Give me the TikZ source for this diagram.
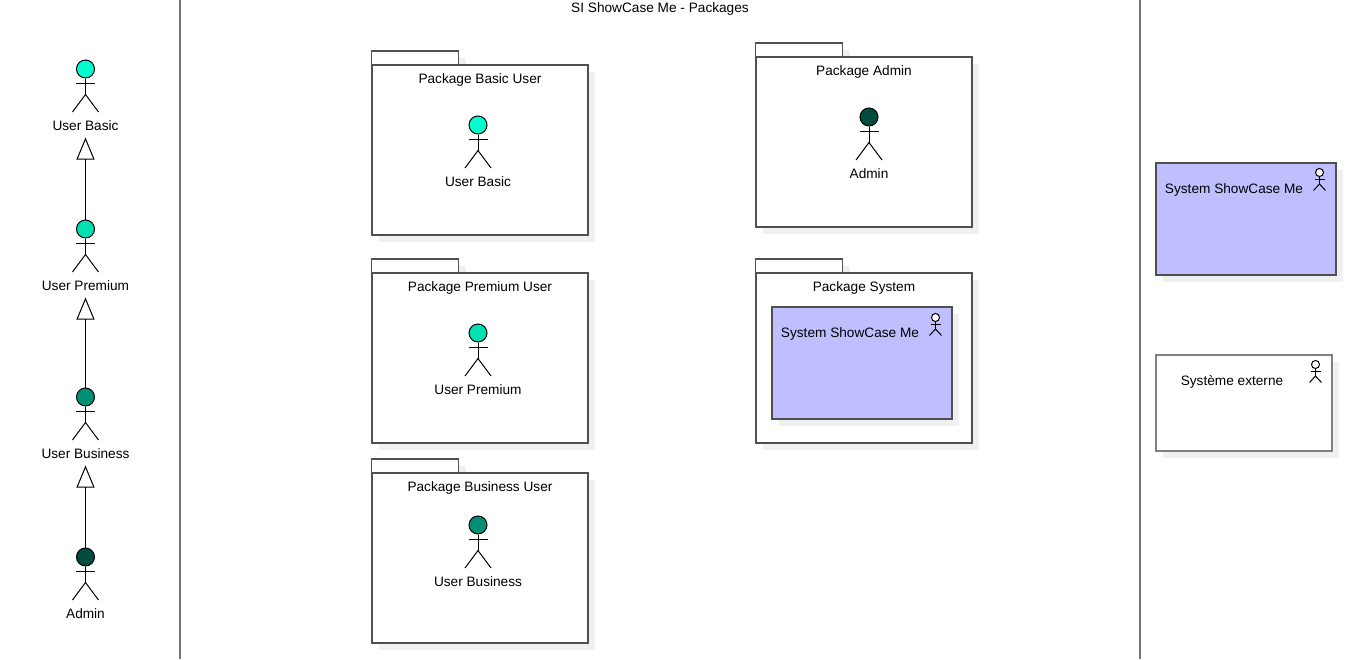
\documentclass[tikz,border=0pt]{standalone}
\usepackage{fontspec}
\setmainfont{Liberation Sans}
\usetikzlibrary{shadows,arrows.meta}
\tikzset{every picture/.style={line width=1pt}}
\definecolor{basicgreen}{HTML}{00FFCC}
\definecolor{premiumgreen}{HTML}{00E0B3}
\definecolor{businessgreen}{HTML}{008F73}
\definecolor{admingreen}{HTML}{004D40}
\definecolor{systemblue}{HTML}{BFBFFF}
\definecolor{edgegray}{HTML}{505050}
\definecolor{shadowgray}{HTML}{F0F0F0}

\begin{document}
\begin{tikzpicture}[
    x=1pt, y=-1pt,
    softshadow/.style={
        drop shadow={shadow xshift=7pt, shadow yshift=-7pt, fill=shadowgray, opacity=1}
    },
    pkgbody/.style={
        rectangle, draw=edgegray, fill=white, softshadow, line width=1.1pt,
        inner sep=0pt, minimum width=216pt, minimum height=170pt
    },
    pkgtab/.style={
        rectangle, draw=edgegray, fill=white, softshadow, line width=1.1pt,
        inner sep=0pt, minimum width=87pt, minimum height=14pt
    },
    sysbox/.style={
        rectangle, draw=edgegray, fill=systemblue, softshadow, line width=1.1pt,
        inner sep=0pt, minimum width=180pt, minimum height=112pt
    },
    extbox/.style={
        rectangle, draw=gray, fill=white, softshadow, line width=1.1pt,
        inner sep=0pt, minimum width=176pt, minimum height=96pt
    },
    lbl/.style={inner sep=0pt, minimum height=14pt, yshift=-1pt, font=\fontsize{13.65}{15}\selectfont},
    head/.style={circle, draw=black, inner sep=0pt, minimum size=18pt},
    minihead/.style={circle, draw=black, fill=white, inner sep=0pt, minimum size=8pt},
    genline/.style={draw=black, -{Triangle[open, length=22pt, width=18pt]}, shorten >=4pt},
]
\useasboundingbox (0,0) rectangle (1350,659);

%% ===================== SWIMLANE SEPARATORS =====================
\coordinate (sepAtop) at (180,0);
\coordinate (sepAbot) at (180,659);
\coordinate (sepBtop) at (1140,0);
\coordinate (sepBbot) at (1140,659);
\draw[gray!90!black, line width=1.3pt] (sepAtop) -- (sepAbot);
\draw[gray!90!black, line width=1.3pt] (sepBtop) -- (sepBbot);

\node[lbl] (diagTitle) at (660,8) {SI ShowCase Me - Packages};

%% ===================== PACKAGES =====================
\foreach \nm/\cx/\cy/\ttl/\ty in {
    pBasic/480/150/Package Basic User/79,
    pPremium/480/358/Package Premium User/287,
    pBusiness/480/558/Package Business User/487,
    pAdmin/864/142/Package Admin/71,
    pSystem/864/358/Package System/287} {
  \node[pkgtab] (\nm-tab) at (\cx-65,\cy-92) {};
  \node[pkgbody] (\nm) at (\cx,\cy) {};
  \node[lbl] (\nm-title) at (\cx,\ty) {\ttl};
}

%% ===================== SYSTEM BOXES =====================
\node[sysbox] (sysInner) at (862,363) {};
\node[lbl] (sysInnerLab) at (850,333) {System ShowCase Me};
\node[sysbox] (sysOuter) at (1246,219) {};
\node[lbl] (sysOuterLab) at (1234,189) {System ShowCase Me};
\node[extbox] (extSys) at (1244,403) {};
\node[lbl] (extSysLab) at (1232,381) {Système externe};

% small actors in the corner of the boxes
\foreach \nm/\cx/\cy in {mSysInner/935.5/317.5, mSysOuter/1319.5/172.5, mExt/1315.5/364.5} {
  \node[minihead] (\nm) at (\cx,\cy) {};
  \draw (\nm.south) -- (\cx,\cy+11.5);
  \draw (\cx-5,\cy+7) -- (\cx+5,\cy+7);
  \draw (\cx-6,\cy+18) -- (\cx,\cy+11.5) -- (\cx+6,\cy+18);
}

%% ===================== ACTORS =====================
\foreach \nm/\cx/\cy/\col/\lab in {
    aBasic/85.5/69/basicgreen/User Basic,
    aPremium/85.5/229/premiumgreen/User Premium,
    aBusiness/85.5/397/businessgreen/User Business,
    aAdmin/85.5/557/admingreen/Admin,
    bBasic/478/125/basicgreen/User Basic,
    bPremium/478/333/premiumgreen/User Premium,
    bBusiness/478/525/businessgreen/User Business,
    bAdmin/869/117/admingreen/Admin} {
  \node[head, fill=\col] (\nm) at (\cx,\cy) {};
  \draw (\nm.south) -- (\cx,\cy+25.5);
  \draw (\cx-9.5,\cy+14.5) -- (\cx+9.5,\cy+14.5);
  \draw (\cx-13,\cy+43) -- (\cx,\cy+25.5) -- (\cx+13,\cy+43);
  \node[lbl] (\nm-lab) at (\cx,\cy+56) {\lab};
}

%% ===================== GENERALISATIONS =====================
\draw[genline] (aPremium) -- (aBasic-lab);
\draw[genline] (aBusiness) -- (aPremium-lab);
\draw[genline] (aAdmin) -- (aBusiness-lab);
\end{tikzpicture}
\end{document}
